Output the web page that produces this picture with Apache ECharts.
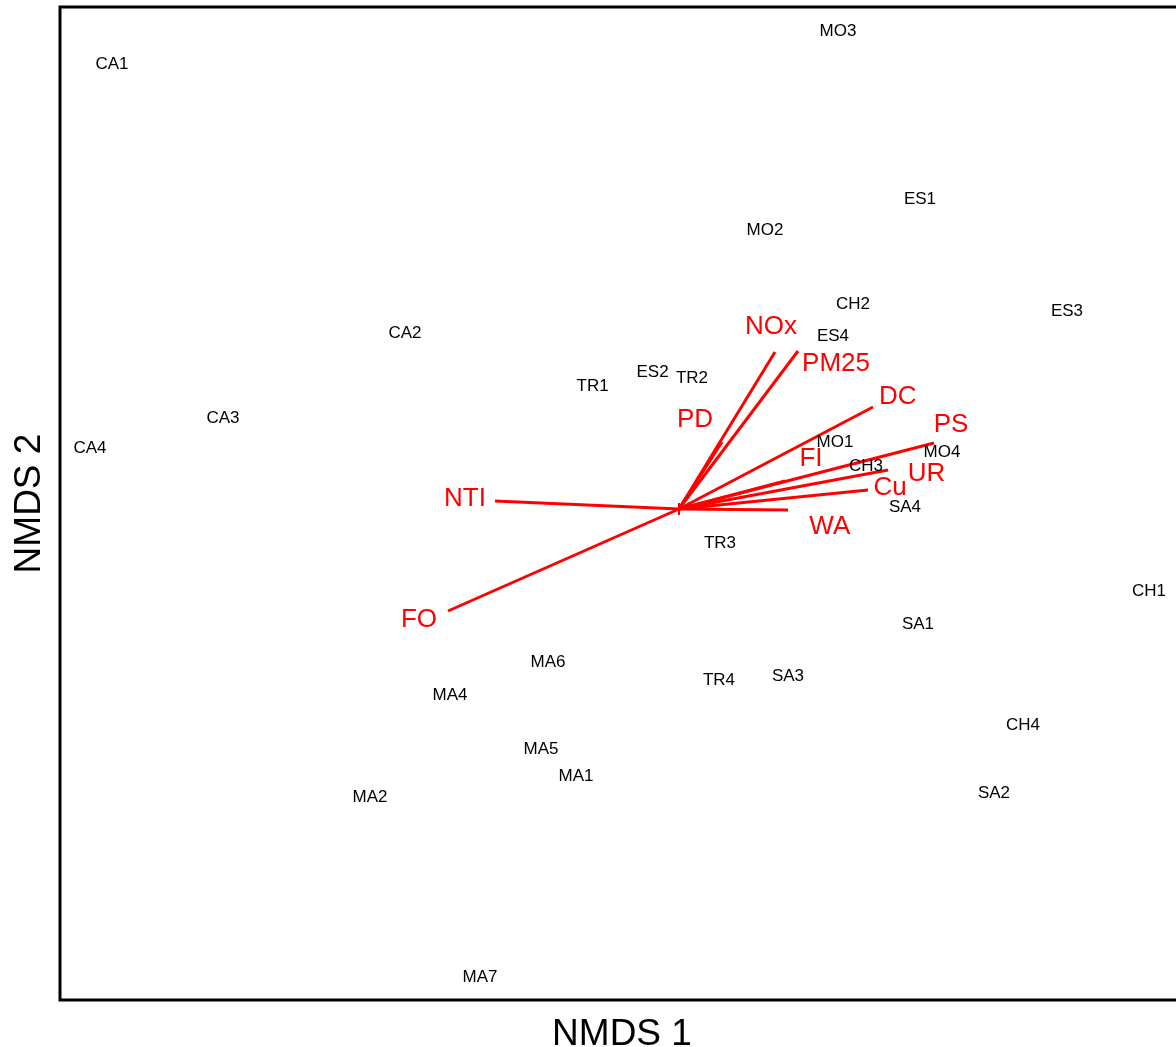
<!DOCTYPE html>
<html>
<head>
<meta charset="utf-8">
<script src="https://cdn.jsdelivr.net/npm/echarts@6/dist/echarts.min.js"></script>
<style>
  html, body { margin: 0; padding: 0; background: #fff; }
  #chart { width: 1176px; height: 1047px; }
</style>
</head>
<body>
<div id="chart"></div>
<script>
// Site scores on the first two NMDS axes
const siteNames = ['CA1','MO3','ES1','MO2','CH2','ES3','CA2','ES4','ES2','TR2','TR1','CA3','CA4','MO1','MO4','CH3','SA4','TR3','CH1','SA1','MA6','TR4','SA3','MA4','CH4','MA5','MA1','SA2','MA2','MA7'];
const siteNMDS1 = [-1.4175, 0.3975, 0.6025, 0.215, 0.435, 0.97, -0.685, 0.385, -0.066, 0.0325, -0.216, -1.14, -1.4725, 0.39, 0.6575, 0.4675, 0.565, 0.1025, 1.175, 0.5975, -0.3275, 0.10, 0.2725, -0.5725, 0.86, -0.345, -0.2575, 0.7875, -0.7725, -0.4975];
const siteNMDS2 = [1.115, 1.1975, 0.7775, 0.70, 0.515, 0.4975, 0.4425, 0.435, 0.346, 0.33, 0.311, 0.23, 0.155, 0.17, 0.145, 0.11, 0.0075, -0.082, -0.2025, -0.285, -0.38, -0.425, -0.415, -0.461, -0.5375, -0.5975, -0.664, -0.7075, -0.7175, -1.1675];

// Fitted environmental vectors (arrow tips) and where their names sit
const envNames = ['NOx','PM25','PD','DC','PS','FI','UR','Cu','WA','NTI','FO'];
const envNMDS1 = [0.24, 0.2975, 0.1075, 0.485, 0.6375, 0.265, 0.5225, 0.4725, 0.2725, -0.46, -0.5775];
const envNMDS2 = [0.3925, 0.395, 0.1675, 0.255, 0.165, 0.07, 0.0975, 0.0475, -0.0025, 0.02, -0.255];
const envLabelX = [0.23, 0.3925, 0.04, 0.547, 0.68, 0.33, 0.619, 0.5275, 0.377, -0.535, -0.65];
const envLabelY = [0.458, 0.3675, 0.2275, 0.284, 0.215, 0.13, 0.0915, 0.0575, -0.04, 0.03, -0.2725];

const FONT = '"Liberation Sans", Arial, Helvetica, sans-serif';
const RED = '#ff0000';

const sitePoints = siteNames.map((n, i) => ({ name: n, value: [siteNMDS1[i], siteNMDS2[i]] }));
const vectorSegments = envNames.map((n, i) => ({ name: n, coords: [[0, 0], [envNMDS1[i], envNMDS2[i]]] }));
const vectorLabels = envNames.map((n, i) => ({ name: n, value: [envLabelX[i], envLabelY[i]] }));

const chart = echarts.init(document.getElementById('chart'), null, { renderer: 'canvas' });

chart.setOption({
  animation: false,
  backgroundColor: '#fff',
  grid: {
    left: 60, top: 7, width: 1124, height: 993,
    outerBoundsMode: 'none',
    containLabel: false,
    show: true, borderColor: '#000', borderWidth: 3, backgroundColor: 'transparent'
  },
  xAxis: {
    type: 'value', min: -1.5475, max: 1.2625,
    name: 'NMDS 1', nameLocation: 'middle', nameGap: 16,
    nameTextStyle: { fontFamily: FONT, fontSize: 37, color: '#000' },
    axisLine: { show: false }, axisTick: { show: false },
    axisLabel: { show: false }, splitLine: { show: false }
  },
  yAxis: {
    type: 'value', min: -1.2275, max: 1.255,
    name: 'NMDS 2', nameLocation: 'middle', nameGap: 12,
    nameTextStyle: { fontFamily: FONT, fontSize: 37, color: '#000' },
    axisLine: { show: false }, axisTick: { show: false },
    axisLabel: { show: false }, splitLine: { show: false }
  },
  series: [
    {
      type: 'lines',
      coordinateSystem: 'cartesian2d',
      polyline: false,
      symbol: 'none',
      lineStyle: { color: RED, width: 3, opacity: 1 },
      data: vectorSegments,
      silent: true,
      z: 3
    },
    {
      // small tick marking the vector origin
      type: 'scatter',
      data: [[0, 0]],
      symbol: 'rect',
      symbolSize: [2, 12],
      itemStyle: { color: RED, opacity: 1 },
      silent: true,
      z: 4
    },
    {
      type: 'scatter',
      data: sitePoints,
      symbolSize: 1,
      itemStyle: { color: 'rgba(0,0,0,0)', opacity: 1 },
      label: {
        show: true, position: 'inside', formatter: '{b}', offset: [0, 1.5],
        fontFamily: FONT, fontSize: 17, color: '#000'
      },
      silent: true,
      z: 5
    },
    {
      type: 'scatter',
      data: vectorLabels,
      symbolSize: 1,
      itemStyle: { color: 'rgba(0,0,0,0)', opacity: 1 },
      label: {
        show: true, position: 'inside', formatter: '{b}', offset: [0, 1.5],
        fontFamily: FONT, fontSize: 26, color: RED
      },
      silent: true,
      z: 6
    }
  ]
});
</script>
</body>
</html>
